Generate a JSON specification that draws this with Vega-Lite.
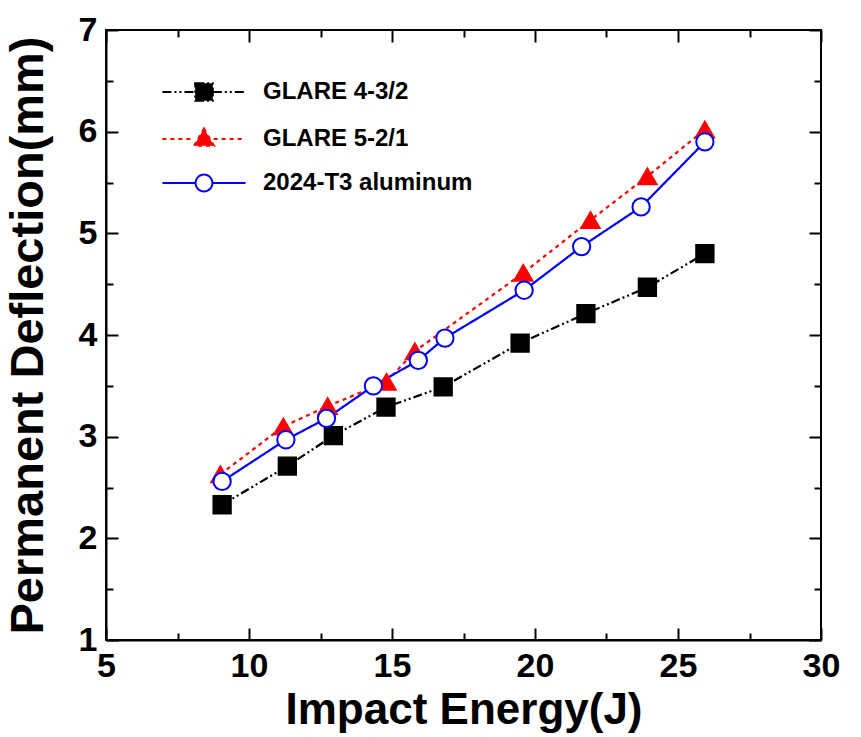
{
  "$schema": "https://vega.github.io/schema/vega-lite/v6.json",
  "width": 715,
  "height": 610,
  "autosize": {"type": "none"},
  "padding": {"left": 106, "top": 30, "right": 40, "bottom": 97},
  "background": "white",
  "config": {
    "view": {"stroke": "black", "strokeWidth": 2},
    "font": "Liberation Sans",
    "axis": {
      "grid": false,
      "domainColor": "black",
      "domainWidth": 2,
      "tickColor": "black",
      "tickWidth": 2,
      "labelColor": "black",
      "titleColor": "black",
      "labelFont": "Liberation Sans",
      "titleFont": "Liberation Sans",
      "labelFontSize": 34,
      "labelFontWeight": "bold",
      "titleFontSize": 44,
      "titleFontWeight": "bold",
      "labelFlush": false,
      "labelOverlap": false
    }
  },
  "data": {
    "values": [
      {"series": "GLARE 4-3/2", "energy": 9.06, "deflection": 2.33},
      {"series": "GLARE 4-3/2", "energy": 11.34, "deflection": 2.71},
      {"series": "GLARE 4-3/2", "energy": 12.95, "deflection": 3.01},
      {"series": "GLARE 4-3/2", "energy": 14.79, "deflection": 3.29},
      {"series": "GLARE 4-3/2", "energy": 16.79, "deflection": 3.49},
      {"series": "GLARE 4-3/2", "energy": 19.48, "deflection": 3.92},
      {"series": "GLARE 4-3/2", "energy": 21.78, "deflection": 4.21},
      {"series": "GLARE 4-3/2", "energy": 23.93, "deflection": 4.47},
      {"series": "GLARE 4-3/2", "energy": 25.94, "deflection": 4.8},
      {"series": "GLARE 5-2/1", "energy": 9.0, "deflection": 2.63},
      {"series": "GLARE 5-2/1", "energy": 11.2, "deflection": 3.1},
      {"series": "GLARE 5-2/1", "energy": 12.75, "deflection": 3.3},
      {"series": "GLARE 5-2/1", "energy": 14.81, "deflection": 3.54},
      {"series": "GLARE 5-2/1", "energy": 15.8, "deflection": 3.84},
      {"series": "GLARE 5-2/1", "energy": 19.59, "deflection": 4.61},
      {"series": "GLARE 5-2/1", "energy": 21.94, "deflection": 5.13},
      {"series": "GLARE 5-2/1", "energy": 23.93, "deflection": 5.56},
      {"series": "GLARE 5-2/1", "energy": 25.94, "deflection": 6.02},
      {"series": "2024-T3 aluminum", "energy": 9.06, "deflection": 2.56},
      {"series": "2024-T3 aluminum", "energy": 11.29, "deflection": 2.97},
      {"series": "2024-T3 aluminum", "energy": 12.71, "deflection": 3.18},
      {"series": "2024-T3 aluminum", "energy": 14.35, "deflection": 3.5},
      {"series": "2024-T3 aluminum", "energy": 15.92, "deflection": 3.75},
      {"series": "2024-T3 aluminum", "energy": 16.85, "deflection": 3.97},
      {"series": "2024-T3 aluminum", "energy": 19.62, "deflection": 4.44},
      {"series": "2024-T3 aluminum", "energy": 21.63, "deflection": 4.87},
      {"series": "2024-T3 aluminum", "energy": 23.71, "deflection": 5.26},
      {"series": "2024-T3 aluminum", "energy": 25.94, "deflection": 5.9}
    ]
  },
  "resolve": {"axis": {"x": "independent", "y": "independent"}},
  "layer": [
    {
      "mark": {"type": "line", "strokeWidth": 2.2},
      "encoding": {
        "x": {
          "field": "energy",
          "type": "quantitative",
          "scale": {"domain": [5, 30], "nice": false, "zero": false},
          "axis": {
            "orient": "bottom",
            "title": "Impact Energy(J)",
            "values": [5, 7.5, 10, 12.5, 15, 17.5, 20, 22.5, 25, 27.5, 30],
            "labelExpr": "datum.value % 5 === 0 ? format(datum.value, 'd') : ''",
            "tickSize": {"condition": {"test": "datum.value % 5 === 0", "value": -12}, "value": -7},
            "labelPadding": 21,
            "titlePadding": 0
          }
        },
        "y": {
          "field": "deflection",
          "type": "quantitative",
          "scale": {"domain": [1, 7], "nice": false, "zero": false},
          "axis": {
            "orient": "left",
            "title": "Permanent Deflection(mm)",
            "titleFontSize": 47,
            "values": [1, 1.5, 2, 2.5, 3, 3.5, 4, 4.5, 5, 5.5, 6, 6.5, 7],
            "labelExpr": "datum.value % 1 === 0 ? format(datum.value, 'd') : ''",
            "tickSize": {"condition": {"test": "datum.value % 1 === 0", "value": -12}, "value": -7},
            "labelPadding": 21,
            "titlePadding": 26
          }
        },
        "color": {
          "field": "series",
          "type": "nominal",
          "scale": {"domain": ["GLARE 4-3/2", "GLARE 5-2/1", "2024-T3 aluminum"], "range": ["#000000", "#ff0000", "#0000ff"]},
          "legend": {
            "orient": "none",
            "legendX": 86,
            "legendY": 50,
            "title": null,
            "padding": 0,
            "labelFont": "Liberation Sans",
            "labelFontSize": 24,
            "labelFontWeight": "bold",
            "labelColor": "black",
            "labelOffset": 47,
            "labelLimit": 0,
            "rowPadding": 19,
            "symbolSize": 256,
            "symbolStrokeWidth": 2,
            "symbolType": {"expr": "datum.value === 'GLARE 4-3/2' ? 'M-5.2,0H-1.1M1.1,0H5.2M-1.1,-1.1H1.1V1.1H-1.1Z' : datum.value === 'GLARE 5-2/1' ? 'M-5.2,0H-1.2M1.2,0H5.2M0,-1.3L1.25,0.85L-1.25,0.85Z' : 'M-5.2,0H-1.05M1.05,0H5.2M1.05,0A1.05,1.05,0,1,1,-1.05,0A1.05,1.05,0,1,1,1.05,0Z'"},
            "encode": {
              "symbols": {
                "update": {
                  "shape": {"signal": "datum.value === 'GLARE 4-3/2' ? 'M-5.2,0H-1.1M1.1,0H5.2M-1.1,-1.1H1.1V1.1H-1.1Z' : datum.value === 'GLARE 5-2/1' ? 'M-5.2,0H-1.2M1.2,0H5.2M0,-1.3L1.25,0.85L-1.25,0.85Z' : 'M-5.2,0H-1.05M1.05,0H5.2M1.05,0A1.05,1.05,0,1,1,-1.05,0A1.05,1.05,0,1,1,1.05,0Z'"},
                  "fill": {"scale": "fill", "field": "value"},
                  "stroke": {"scale": "color", "field": "value"},
                  "strokeDash": {"scale": "strokeDash", "field": "value"},
                  "strokeWidth": {"value": 2},
                  "opacity": {"value": 1},
                  "fillOpacity": {"value": 1}
                }
              }
            }
          }
        },
        "strokeDash": {
          "field": "series",
          "type": "nominal",
          "scale": {"domain": ["GLARE 4-3/2", "GLARE 5-2/1", "2024-T3 aluminum"], "range": [[9, 3, 2, 3, 2, 3], [4, 4], [1, 0]]},
          "legend": null
        }
      }
    },
    {
      "transform": [{"filter": "datum.series === 'GLARE 4-3/2'"}],
      "mark": {"type": "point", "shape": "square", "filled": false, "size": 300, "strokeWidth": 2, "opacity": 1},
      "encoding": {
        "x": {
          "field": "energy",
          "type": "quantitative",
          "axis": {
            "orient": "top",
            "title": null,
            "labels": false,
            "domain": false,
            "values": [5, 7.5, 10, 12.5, 15, 17.5, 20, 22.5, 25, 27.5, 30],
            "tickSize": {"condition": {"test": "datum.value % 5 === 0", "value": -12}, "value": -7}
          }
        },
        "y": {
          "field": "deflection",
          "type": "quantitative",
          "axis": {
            "orient": "right",
            "title": null,
            "labels": false,
            "domain": false,
            "values": [1, 1.5, 2, 2.5, 3, 3.5, 4, 4.5, 5, 5.5, 6, 6.5, 7],
            "tickSize": {"condition": {"test": "datum.value % 1 === 0", "value": -12}, "value": -7}
          }
        },
        "color": {"field": "series", "type": "nominal"},
        "fill": {
          "field": "series",
          "type": "nominal",
          "scale": {"domain": ["GLARE 4-3/2", "GLARE 5-2/1", "2024-T3 aluminum"], "range": ["#000000", "#ff0000", "#ffffff"]},
          "legend": null
        }
      }
    },
    {
      "transform": [{"filter": "datum.series === 'GLARE 5-2/1'"}],
      "mark": {"type": "point", "shape": "triangle-up", "filled": false, "size": 330, "strokeWidth": 2, "opacity": 1},
      "encoding": {
        "x": {"field": "energy", "type": "quantitative", "axis": null},
        "y": {"field": "deflection", "type": "quantitative", "axis": null},
        "color": {"field": "series", "type": "nominal"},
        "fill": {"field": "series", "type": "nominal", "legend": null}
      }
    },
    {
      "transform": [{"filter": "datum.series === '2024-T3 aluminum'"}],
      "mark": {"type": "point", "shape": "circle", "filled": false, "size": 300, "strokeWidth": 2, "opacity": 1},
      "encoding": {
        "x": {"field": "energy", "type": "quantitative", "axis": null},
        "y": {"field": "deflection", "type": "quantitative", "axis": null},
        "color": {"field": "series", "type": "nominal"},
        "fill": {"field": "series", "type": "nominal", "legend": null}
      }
    }
  ]
}
